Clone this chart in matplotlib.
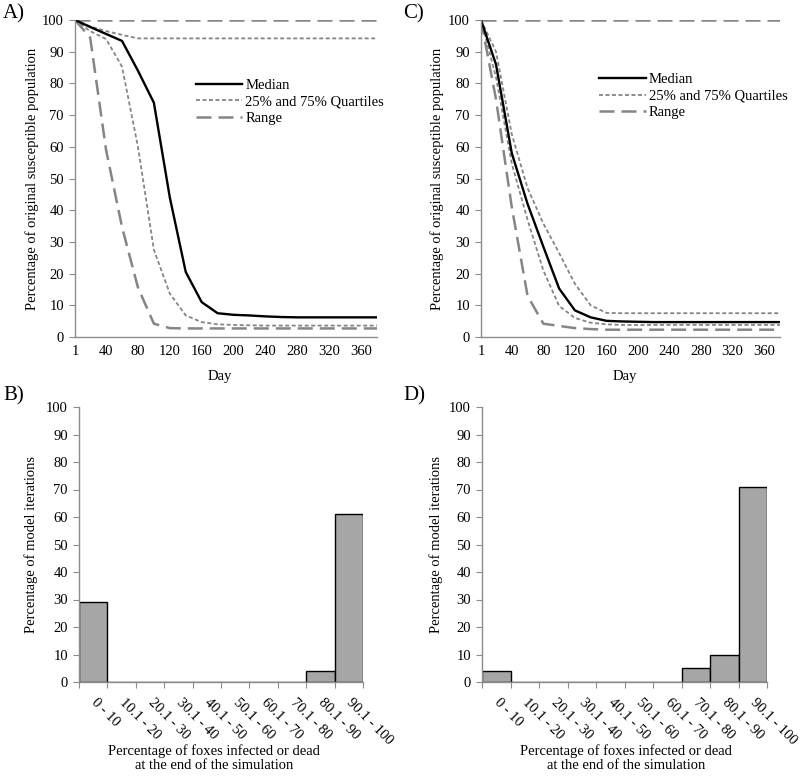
import matplotlib
matplotlib.use("Agg")
import matplotlib.pyplot as plt

plt.rcParams['font.family'] = ['Liberation Serif', 'DejaVu Serif']
plt.rcParams['font.size'] = 10.5

# --- data ---
days = [1, 20, 40, 60, 80, 100, 120, 140, 160, 180, 200, 220, 240, 260, 280, 300, 320, 340, 360, 380]

a_med = [100, 97.8, 95.6, 93.4, 84, 73.9, 44, 20.5, 11, 7.5, 7.0, 6.8, 6.5, 6.3, 6.2, 6.2, 6.2, 6.2, 6.2, 6.2]
a_q75 = [100, 98, 96.5, 95.3, 94.2, 94.2, 94.2, 94.2, 94.2, 94.2, 94.2, 94.2, 94.2, 94.2, 94.2, 94.2, 94.2, 94.2, 94.2, 94.2]
a_q25 = [100, 96.5, 94, 85.3, 60, 27.5, 13.7, 6.8, 4.7, 4.0, 3.8, 3.7, 3.6, 3.6, 3.6, 3.6, 3.6, 3.6, 3.6, 3.6]
a_max = [100] * 20
a_min = [100, 94.5, 59, 34.7, 15.6, 4.2, 2.8, 2.7, 2.7, 2.7, 2.7, 2.7, 2.7, 2.7, 2.7, 2.7, 2.7, 2.7, 2.7, 2.7]

c_med = [100, 86, 58, 42, 28.5, 15.3, 8.4, 6.2, 5.1, 4.9, 4.8, 4.7, 4.7, 4.7, 4.7, 4.7, 4.7, 4.7, 4.7, 4.7]
c_q75 = [100, 90, 64, 47, 35.8, 26.5, 16.8, 10, 7.6, 7.5, 7.5, 7.5, 7.5, 7.5, 7.5, 7.5, 7.5, 7.5, 7.5, 7.5]
c_q25 = [100, 82, 54.7, 37, 21, 9.8, 6.0, 4.5, 4.0, 3.8, 3.8, 3.8, 3.8, 3.8, 3.8, 3.8, 3.8, 3.8, 3.8, 3.8]
c_max = [100] * 20
c_min = [100, 75, 41, 13, 4.2, 3.5, 2.8, 2.5, 2.3, 2.3, 2.3, 2.3, 2.3, 2.3, 2.3, 2.3, 2.3, 2.3, 2.3, 2.3]

bins = ["0 - 10", "10.1 - 20", "20.1 - 30", "30.1 - 40", "40.1 - 50",
        "50.1 - 60", "60.1 - 70", "70.1 - 80", "80.1 - 90", "90.1 - 100"]
b_pct = [29, 0, 0, 0, 0, 0, 0, 0, 4, 61]
d_pct = [4, 0, 0, 0, 0, 0, 0, 5, 10, 71]

day_ticks = [1, 40, 80, 120, 160, 200, 240, 280, 320, 360]

W, H = 800, 776
fig = plt.figure(figsize=(8, 7.76), dpi=100)

def box(l, t, r, b):
    return [l / W, 1 - b / H, (r - l) / W, (b - t) / H]

spine_col = "#8c8c8c"
grey = "#858585"
RANGE_DASH = (6, 2.8)
QUART_DASH = (2.2, 1.4)

def style(ax):
    for s in ["top", "right"]:
        ax.spines[s].set_visible(False)
    for s in ["left", "bottom"]:
        ax.spines[s].set_color(spine_col)
        ax.spines[s].set_linewidth(1)
    ax.tick_params(axis="y", direction="out", length=4, color=spine_col, pad=4)
    ax.set_ylim(0, 100)
    ax.set_yticks(range(0, 101, 10))

def line_panel(ax, med, q25, q75, lo, hi, leg_xy, ylab_x):
    ax.plot(days, hi, color=grey, lw=1.8, dashes=RANGE_DASH)
    ax.plot(days, lo, color=grey, lw=1.8, dashes=RANGE_DASH)
    ax.plot(days, q75, color=grey, lw=1.3, dashes=QUART_DASH)
    ax.plot(days, q25, color=grey, lw=1.3, dashes=QUART_DASH)
    ax.plot(days, med, color="black", lw=1.7)
    style(ax)
    ax.set_xlim(1, 380)
    ax.set_xticks(day_ticks)
    ax.tick_params(axis="x", length=0, pad=6)
    ax.set_xlabel("Day")
    ax.xaxis.set_label_coords(0.48, -0.105)
    ax.set_ylabel("Percentage of original susceptible population")
    ax.yaxis.set_label_coords(ylab_x, 0.5)
    h1, = ax.plot([], [], color="black", lw=1.7)
    h2, = ax.plot([], [], color=grey, lw=1.3, dashes=QUART_DASH)
    h3, = ax.plot([], [], color=grey, lw=1.8, dashes=RANGE_DASH)
    ax.legend([h1, h2, h3], ["Median", "25% and 75% Quartiles", "Range"],
              loc="upper left", bbox_to_anchor=leg_xy, frameon=False,
              handlelength=3.2, handletextpad=0.2, labelspacing=0.22,
              borderpad=0, borderaxespad=0)

def hist_panel(ax, vals, ylab_x, xlab_x):
    x = list(range(len(bins)))
    ax.bar(x, vals, width=1.0, color="#a6a6a6", edgecolor="black", linewidth=1)
    style(ax)
    ax.set_xlim(-0.5, len(bins) - 0.5)
    ax.set_xticks([i - 0.5 for i in range(len(bins) + 1)])
    ax.set_xticklabels([])
    ax.set_xticks(x, minor=True)
    ax.set_xticklabels(bins, minor=True, rotation=-45, ha="left", va="center",
                       rotation_mode="anchor")
    ax.tick_params(axis="x", which="major", direction="out", length=4, color=spine_col)
    ax.tick_params(axis="x", which="minor", length=0, pad=13)
    ax.set_ylabel("Percentage of model iterations")
    ax.yaxis.set_label_coords(ylab_x, 0.5)
    ax.set_xlabel("Percentage of foxes infected or dead\nat the end of the simulation",
                  linespacing=1.15)
    ax.xaxis.set_label_coords(xlab_x, -0.225)

axA = fig.add_axes(box(75, 20, 377, 337))
line_panel(axA, a_med, a_q25, a_q75, a_min, a_max, (0.40, 0.815), -0.119)
axC = fig.add_axes(box(481, 20, 780, 337))
line_panel(axC, c_med, c_q25, c_q75, c_min, c_max, (0.395, 0.832), -0.124)

axB = fig.add_axes(box(79, 407, 363, 682))
hist_panel(axB, b_pct, -0.144, 0.475)
axD = fig.add_axes(box(482, 407, 767, 682))
hist_panel(axD, d_pct, -0.137, 0.505)

for lab, px, py in [("A)", 3, 14), ("C)", 403, 14), ("B)", 3, 396), ("D)", 403, 396)]:
    fig.text(px / W, 1 - py / H, lab, fontsize=15, ha="left", va="center")

fig.savefig("out.png", dpi=100)
